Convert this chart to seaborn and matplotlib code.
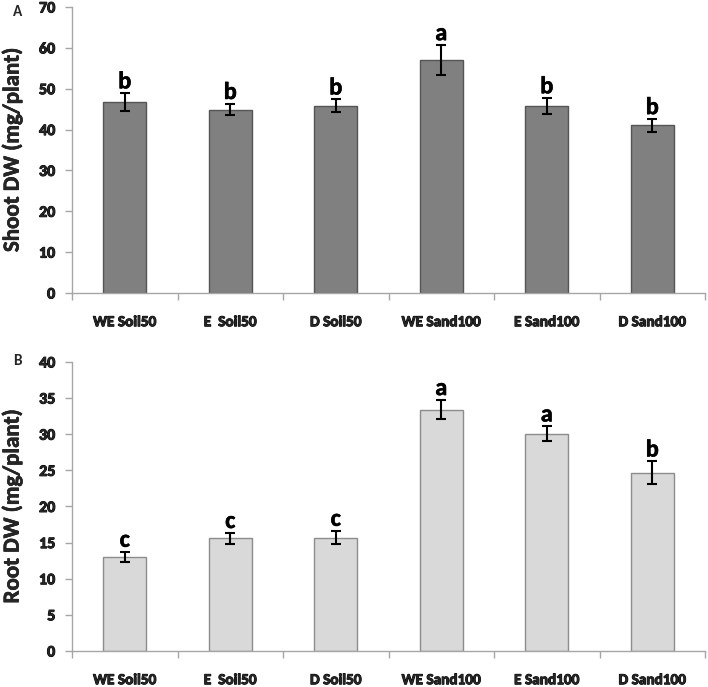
import matplotlib
matplotlib.use("Agg")
import matplotlib.pyplot as plt
import matplotlib.patheffects as pe
import seaborn as sns
import numpy as np
import pandas as pd

categories = ["WE Soil50", "E  Soil50", "D Soil50", "WE Sand100", "E Sand100", "D Sand100"]
shoot_vals = [46.7, 44.9, 45.8, 57.0, 45.8, 41.0]
shoot_err = [2.2, 1.4, 1.6, 3.7, 1.9, 1.6]
shoot_letters = ["b", "b", "b", "a", "b", "b"]
root_vals = [13.0, 15.6, 15.7, 33.4, 30.1, 24.7]
root_err = [0.75, 0.75, 0.95, 1.35, 1.0, 1.55]
root_letters = ["c", "c", "c", "a", "a", "b"]

sns.set_style("white")
plt.rcParams["font.family"] = ["Carlito", "DejaVu Sans"]
plt.rcParams["font.weight"] = "bold"
plt.rcParams["axes.labelweight"] = "bold"

fig = plt.figure(figsize=(7.08, 6.87), dpi=100)
axA = fig.add_axes([0.1017, 0.5735, 0.8941, 0.4163])
axB = fig.add_axes([0.1017, 0.0524, 0.8941, 0.4207])

thick = [pe.withStroke(linewidth=0.7, foreground="black")]
thin = [pe.withStroke(linewidth=0.4, foreground="black")]

def draw(ax, vals, errs, letters, color, edge, ymax, ystep, ylabel):
    df = pd.DataFrame({"cat": categories, "val": vals})
    sns.barplot(data=df, x="cat", y="val", ax=ax, color=color, edgecolor=edge,
                linewidth=1.0, width=0.41, saturation=1)
    x = np.arange(len(categories))
    ax.errorbar(x, vals, yerr=errs, fmt="none", ecolor="black", elinewidth=1.5,
                capsize=3.3, capthick=1.5)
    for xi, v, e, l in zip(x, vals, errs, letters):
        ax.annotate(l, (xi, v + e), xytext=(0, 3.5), textcoords="offset points",
                    ha="center", va="baseline", fontsize=17.5, fontweight="bold",
                    color="black", path_effects=thin)
    ax.set_xlim(-0.5, len(categories) - 0.5)
    ax.set_ylim(0, ymax)
    ax.set_yticks(np.arange(0, ymax + 1, ystep))
    ax.set_xticks(np.arange(-0.5, len(categories), 1.0), minor=True)
    ax.tick_params(axis="x", which="major", length=0, pad=16, labelsize=11)
    ax.tick_params(axis="x", which="minor", length=5, color="#a6a6a6", width=1, direction="out", bottom=True)
    ax.tick_params(axis="y", length=5, color="#a6a6a6", width=1, direction="out", left=True, pad=7, labelsize=11.5)
    for lab in ax.get_xticklabels() + ax.get_yticklabels():
        lab.set_fontweight("bold")
        lab.set_path_effects(thick)
    ax.set_xlabel("")
    ax.set_ylabel(ylabel, fontsize=16.5, fontweight="bold", path_effects=thin)
    ax.yaxis.set_label_coords(-0.078, 0.5)
    for s in ["top", "right"]:
        ax.spines[s].set_visible(False)
    for s in ["left", "bottom"]:
        ax.spines[s].set_color("#a6a6a6")
        ax.spines[s].set_linewidth(1)

draw(axA, shoot_vals, shoot_err, shoot_letters, "#808080", "#555555", 70, 10,
     "Shoot DW (mg/plant)")
draw(axB, root_vals, root_err, root_letters, "#d9d9d9", "#8c8c8c", 40, 5,
     "Root DW (mg/plant)")

fig.text(13 / 708, 1 - 12 / 687, "A", fontsize=11, fontweight="bold", ha="left", va="center")
fig.text(13 / 708, 1 - 361 / 687, "B", fontsize=11, fontweight="bold", ha="left", va="center")

fig.savefig("out.png", dpi=100)
